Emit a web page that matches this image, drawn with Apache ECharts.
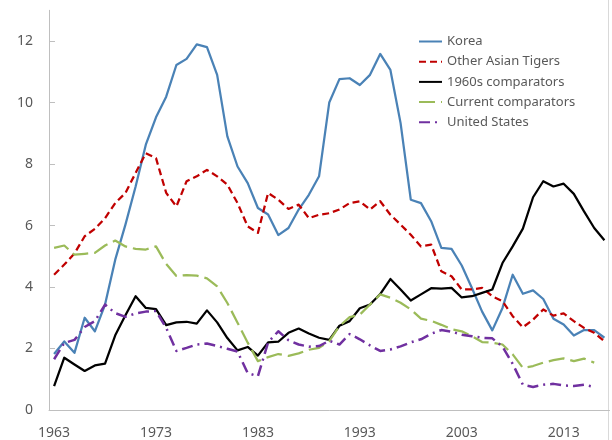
<!DOCTYPE html>
<html>
<head>
<meta charset="utf-8">
<script src="https://cdn.jsdelivr.net/npm/echarts@6/dist/echarts.min.js"></script>
<style>
  html, body { margin: 0; padding: 0; background: #fff; }
  #chart { width: 612px; height: 440px; }
</style>
</head>
<body>
<div id="chart"></div>
<script>
// years on the category axis
const years = [];
for (let y = 1963; y <= 2017; y++) years.push(String(y));

const yTicks = [0, 2, 4, 6, 8, 10, 12];

const korea = [
  1.82, 2.23, 1.86, 3.0, 2.56, 3.43, 4.89, 6.03, 7.27, 8.63,
  9.52, 10.19, 11.22, 11.42, 11.89, 11.8, 10.9, 8.9, 7.92, 7.38,
  6.57, 6.36, 5.69, 5.92, 6.52, 7.0, 7.6, 10.0, 10.76, 10.79,
  10.57, 10.9, 11.58, 11.06, 9.33, 6.84, 6.73, 6.14, 5.27, 5.24,
  4.7, 3.97, 3.2, 2.59, 3.32, 4.4, 3.78, 3.89, 3.61, 2.97,
  2.78, 2.42, 2.6, 2.6, 2.35
];
const asianTigers = [
  4.4, 4.73, 5.09, 5.65, 5.89, 6.24, 6.73, 7.06, 7.71, 8.35,
  8.19, 7.06, 6.62, 7.44, 7.6, 7.81, 7.6, 7.33, 6.73, 5.97,
  5.76, 7.06, 6.84, 6.54, 6.68, 6.24, 6.35, 6.4, 6.52, 6.73,
  6.79, 6.52, 6.79, 6.35, 6.03, 5.7, 5.32, 5.38, 4.51, 4.35,
  3.92, 3.92, 3.97, 3.7, 3.54, 3.05, 2.69, 2.94, 3.27, 3.07,
  3.14, 2.89, 2.67, 2.51, 2.24
];
const comp1960s = [
  0.78, 1.7, 1.48, 1.27, 1.45, 1.51, 2.43, 3.08, 3.7, 3.32,
  3.28, 2.76, 2.85, 2.87, 2.81, 3.24, 2.85, 2.34, 1.94, 2.05,
  1.77, 2.2, 2.22, 2.51, 2.65, 2.49, 2.35, 2.28, 2.74, 2.89,
  3.31, 3.43, 3.77, 4.26, 3.92, 3.56, 3.76, 3.96, 3.95, 3.97,
  3.66, 3.7, 3.81, 3.92, 4.78, 5.32, 5.9, 6.92, 7.44, 7.27,
  7.36, 7.03, 6.46, 5.92, 5.52
];
const compCurrent = [
  5.27, 5.35, 5.05, 5.08, 5.11, 5.35, 5.51, 5.32, 5.24, 5.22,
  5.32, 4.75, 4.36, 4.39, 4.37, 4.28, 4.02, 3.48, 2.84, 2.19,
  1.59, 1.72, 1.82, 1.76, 1.84, 1.96, 2.02, 2.24, 2.73, 3.02,
  3.1, 3.43, 3.76, 3.65, 3.49, 3.27, 2.97, 2.9, 2.77, 2.63,
  2.56, 2.4, 2.21, 2.19, 2.13, 1.81, 1.37, 1.43, 1.54, 1.62,
  1.68, 1.59, 1.67, 1.54, null
];
const unitedStates = [
  1.65, 2.18, 2.28, 2.7, 2.89, 3.43, 3.15, 3.03, 3.14, 3.2,
  3.22, 2.67, 1.92, 2.02, 2.13, 2.16, 2.08, 1.99, 1.9, 1.2,
  1.1, 2.2, 2.56, 2.27, 2.13, 2.06, 2.08, 2.25, 2.13, 2.47,
  2.3, 2.1, 1.92, 1.97, 2.07, 2.2, 2.3, 2.48, 2.6, 2.55,
  2.45, 2.4, 2.35, 2.33, 2.06, 1.5, 0.82, 0.75, 0.82, 0.85,
  0.8, 0.78, 0.82, 0.75, null
];

const textColor = '#595959';
const axisColor = '#bfbfbf';
const font = 'Noto Sans';

const chart = echarts.init(document.getElementById('chart'));

function lineSeries(name, data, color, width, type) {
  return {
    name: name,
    type: 'line',
    data: data,
    symbol: 'none',
    clip: false,
    connectNulls: false,
    lineStyle: { color: color, width: width, type: type, cap: 'butt', join: 'round' },
    itemStyle: { color: color },
    emphasis: { disabled: true }
  };
}

chart.setOption({
  animation: false,
  backgroundColor: '#fff',
  textStyle: { fontFamily: font },
  grid: { left: 49, right: 2.5, top: 10.3, bottom: 29.3 },
  legend: {
    orient: 'vertical',
    left: 413,
    top: 30,
    itemWidth: 23,
    itemHeight: 14,
    itemGap: 7.2,
    itemStyle: { opacity: 0 },
    textStyle: { color: textColor, fontSize: 13, fontFamily: font },
    data: ['Korea', 'Other Asian Tigers', '1960s comparators', 'Current comparators', 'United States']
  },
  xAxis: {
    type: 'category',
    data: years,
    boundaryGap: true,
    axisLine: { lineStyle: { color: axisColor, width: 1 } },
    axisTick: { inside: true, length: 6, interval: 4, lineStyle: { color: axisColor } },
    axisLabel: { interval: 9, color: textColor, fontSize: 14, fontFamily: font, margin: 16 },
    splitLine: { show: false }
  },
  yAxis: {
    type: 'value',
    min: 0,
    max: 13,
    interval: 1,
    axisLine: { show: true, lineStyle: { color: axisColor, width: 1 } },
    axisTick: { show: true, inside: true, length: 6, customValues: yTicks, lineStyle: { color: axisColor } },
    axisLabel: { customValues: yTicks, color: textColor, fontSize: 14, fontFamily: font, margin: 16 },
    splitLine: { show: false }
  },
  graphic: [{
    type: 'line',
    shape: { x1: 608.5, y1: 0, x2: 608.5, y2: 440 },
    style: { stroke: '#d9d9d9', lineWidth: 1 }
  }],
  series: [
    lineSeries('Korea', korea, '#4a82b6', 2.25, 'solid'),
    lineSeries('Other Asian Tigers', asianTigers, '#c00000', 2.25, [7, 4]),
    lineSeries('1960s comparators', comp1960s, '#000000', 2.25, 'solid'),
    lineSeries('Current comparators', compCurrent, '#9bbb59', 2.25, [16, 6]),
    lineSeries('United States', unitedStates, '#7030a0', 2.5, [11, 5, 2, 5])
  ]
});
</script>
</body>
</html>
